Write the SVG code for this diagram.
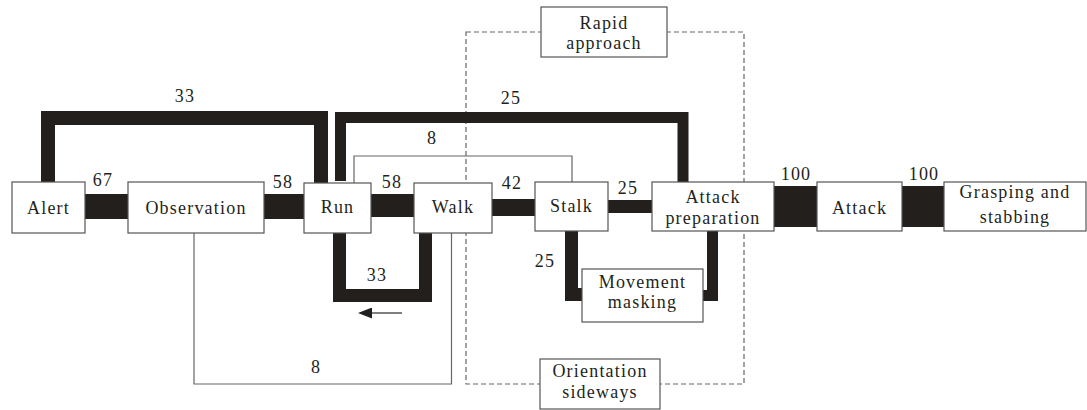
<svg xmlns="http://www.w3.org/2000/svg" width="1087" height="410" viewBox="0 0 1087 410">
<defs>
<style>
text{font-size:18px;fill:#231f20;letter-spacing:1.2px;text-anchor:middle}
.box{fill:#fff;stroke:#555;stroke-width:1.2}
.thick{fill:none;stroke:#231f1c;stroke-linejoin:miter}
.thin{fill:none;stroke:#666;stroke-width:1.2}
.dash{fill:none;stroke:#666;stroke-width:1.2;stroke-dasharray:5,3}
</style>
<marker id="ah" markerWidth="14" markerHeight="11" refX="0" refY="5.5" orient="auto" markerUnits="userSpaceOnUse">
<path d="M0,0 L14,5.5 L0,11 Z" fill="#231f1c"/>
</marker>
</defs>
<rect width="1087" height="410" fill="#fff"/>
<g font-family="'Liberation Serif', 'DejaVu Serif', serif">
<g id="connectors">
<path class="dash" d="M466,32 H744 V384 H466 Z"/>
<line class="thick" x1="85" y1="206.5" x2="128" y2="206.5" stroke-width="25"/>
<line class="thick" x1="264" y1="206.5" x2="304" y2="206.5" stroke-width="25"/>
<line class="thick" x1="371" y1="205.5" x2="414" y2="205.5" stroke-width="23"/>
<line class="thick" x1="492" y1="207.5" x2="535" y2="207.5" stroke-width="17"/>
<line class="thick" x1="608" y1="206.5" x2="652" y2="206.5" stroke-width="13"/>
<line class="thick" x1="774" y1="206.5" x2="817" y2="206.5" stroke-width="41"/>
<line class="thick" x1="902" y1="206.5" x2="944" y2="206.5" stroke-width="41"/>
<path class="thick" d="M48,182 V118 H321 V183" stroke-width="14"/>
<path class="thick" d="M340.5,181 V117.5 H683 V182" stroke-width="11"/>
<path class="thin" d="M354,183 V156 H572 V182"/>
<path class="thick" d="M339.5,233 V295.5 H425.5 V233" stroke-width="13"/>
<path class="thick" d="M571.5,231 V294.5 H583" stroke-width="13"/>
<path class="thick" d="M712.5,231 V295.5 H703" stroke-width="11" stroke-linejoin="round"/>
<path class="thin" d="M194,233 V384 H451.5 V233"/>
<line x1="402" y1="313" x2="372" y2="313" stroke="#555" stroke-width="1.5" marker-end="url(#ah)"/>
<text x="185" y="102">33</text>
<text x="103" y="186">67</text>
<text x="283" y="188">58</text>
<text x="511" y="104">25</text>
<text x="432" y="144">8</text>
<text x="392" y="188">58</text>
<text x="512" y="189">42</text>
<text x="628" y="194">25</text>
<text x="545" y="267">25</text>
<text x="377" y="281">33</text>
<text x="316" y="373">8</text>
<text x="796" y="180">100</text>
<text x="924" y="180">100</text>
</g>
<g id="alert"><rect class="box" x="12" y="182" width="73" height="51"/><text x="48.5" y="214">Alert</text></g>
<g id="observation"><rect class="box" x="128" y="182" width="136" height="51"/><text x="196" y="214">Observation</text></g>
<g id="run"><rect class="box" x="304" y="183" width="67" height="50"/><text x="337.5" y="213">Run</text></g>
<g id="walk"><rect class="box" x="414" y="183" width="78" height="50"/><text x="453" y="213">Walk</text></g>
<g id="stalk"><rect class="box" x="535" y="182" width="73" height="49"/><text x="571.5" y="212">Stalk</text></g>
<g id="attack-preparation"><rect class="box" x="652" y="182" width="122" height="49"/><text x="713" y="203">Attack</text><text x="713" y="224">preparation</text></g>
<g id="attack"><rect class="box" x="817" y="182" width="85" height="49"/><text x="859.5" y="214">Attack</text></g>
<g id="grasping"><rect class="box" x="944" y="182" width="142" height="49"/><text x="1015" y="198">Grasping and</text><text x="1015" y="223">stabbing</text></g>
<g id="rapid-approach"><rect class="box" x="541" y="7" width="126" height="50"/><text x="604" y="29">Rapid</text><text x="604" y="49">approach</text></g>
<g id="movement-masking"><rect class="box" x="582" y="269" width="121" height="53"/><text x="642.5" y="288">Movement</text><text x="642.5" y="308">masking</text></g>
<g id="orientation-sideways"><rect class="box" x="540" y="359" width="120" height="50"/><text x="600" y="377">Orientation</text><text x="600" y="398">sideways</text></g>
</g>
</svg>
